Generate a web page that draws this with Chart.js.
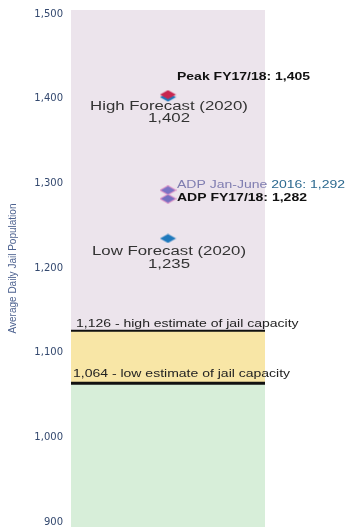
<!DOCTYPE html>
<html>
<head>
<meta charset="utf-8">
<script src="https://cdn.jsdelivr.net/npm/chart.js@4/dist/chart.umd.min.js"></script>
<style>
  html, body { margin: 0; padding: 0; background: #fff; overflow: hidden; }
  #wrap { position: relative; width: 346px; height: 527px; }
</style>
</head>
<body>
<div id="wrap"><canvas id="jailChart"></canvas></div>
<script>
// y axis range and ticks
const yMin = 894;
const yMax = 1505;
const yTicks = [900, 1000, 1100, 1200, 1300, 1400, 1500];

// jail capacity estimates
const capacityValues = [1126, 1064];
const capacityNames = ['high estimate of jail capacity', 'low estimate of jail capacity'];

// population markers
const pointNames = ['Peak FY17/18', 'High Forecast (2020)', 'ADP Jan-June 2016', 'ADP FY17/18', 'Low Forecast (2020)'];
const pointValues = [1405, 1402, 1292, 1282, 1235];

const fmt = v => v.toLocaleString('en-US');
const SX = 1.4; // wide lettering

// flattened diamond marker
function diamond(fill, stroke) {
  const c = document.createElement('canvas');
  c.width = 17; c.height = 10;
  const g = c.getContext('2d');
  g.beginPath();
  g.moveTo(8.5, 0.5); g.lineTo(16.5, 5); g.lineTo(8.5, 9.5); g.lineTo(0.5, 5); g.closePath();
  g.fillStyle = fill; g.fill();
  if (stroke) { g.strokeStyle = stroke; g.lineWidth = 1; g.stroke(); }
  return c;
}

const markerStyles = [
  diamond('#c8264f'),
  diamond('#1f79bc'),
  diamond('#7a74c4', '#e38cc4'),
  diamond('#7470c0', '#e38cc4'),
  diamond('#1f79bc')
];
const drawOrder = [0, 1, 2, 3, 4];

function wideText(ctx, text, x, y, align, font, color) {
  ctx.save();
  ctx.font = font;
  ctx.fillStyle = color;
  ctx.textBaseline = 'middle';
  ctx.textAlign = align;
  ctx.translate(x, y);
  ctx.scale(SX, 1);
  ctx.fillText(text, 0, 0);
  ctx.restore();
}

const annotations = {
  id: 'annotations',
  afterDatasetsDraw(chart) {
    const { ctx, chartArea, scales } = chart;
    const y = scales.y;

    // capacity lines
    capacityValues.forEach((v, i) => {
      const py = y.getPixelForValue(v);
      ctx.save();
      ctx.strokeStyle = '#111';
      ctx.lineWidth = i === 0 ? 2 : 3;
      ctx.beginPath();
      ctx.moveTo(chartArea.left, py);
      ctx.lineTo(chartArea.right, py);
      ctx.stroke();
      ctx.restore();
      wideText(ctx, fmt(v) + ' - ' + capacityNames[i],
        chartArea.left + (i === 0 ? 5 : 2), py - (i === 0 ? 6.5 : 9),
        'left', '10px "Liberation Sans"', '#222');
    });

    // marker labels
    const pos = i => chart.getDatasetMeta(3 + i).data[0];
    const bold = 'bold 10px "Liberation Sans"';
    const big = '12px "Liberation Sans"';

    let p = pos(0);
    wideText(ctx, pointNames[0] + ': ' + fmt(pointValues[0]), p.x + 9, p.y - 17, 'left', bold, '#111');

    p = pos(1);
    wideText(ctx, pointNames[1], p.x + 1, p.y + 10, 'center', big, '#333');
    wideText(ctx, fmt(pointValues[1]), p.x + 1, p.y + 22, 'center', big, '#333');

    p = pos(2);
    const first = 'ADP Jan-June ';
    wideText(ctx, first, p.x + 9, p.y - 5, 'left', '10px "Liberation Sans"', '#7f7db0');
    ctx.save();
    ctx.font = '10px "Liberation Sans"';
    const w = ctx.measureText(first).width * SX;
    ctx.restore();
    wideText(ctx, pointNames[2].replace(first, '') + ': ' + fmt(pointValues[2]),
      p.x + 9 + w, p.y - 5, 'left', '10px "Liberation Sans"', '#2d6a90');

    p = pos(3);
    wideText(ctx, pointNames[3] + ': ' + fmt(pointValues[3]), p.x + 9, p.y, 'left', bold, '#111');

    p = pos(4);
    wideText(ctx, pointNames[4], p.x + 1, p.y + 13, 'center', big, '#333');
    wideText(ctx, fmt(pointValues[4]), p.x + 1, p.y + 26, 'center', big, '#333');
  }
};

const bandDataset = (range, color) => ({
  type: 'bar',
  data: [range],
  backgroundColor: color,
  borderWidth: 0,
  barPercentage: 1,
  categoryPercentage: 1,
  grouped: false,
  order: 20
});

const pointDatasets = pointValues.map((v, i) => ({
  type: 'line',
  label: pointNames[i],
  data: [v],
  showLine: false,
  pointStyle: markerStyles[i],
  pointRadius: 6,
  pointHoverRadius: 6,
  clip: false,
  order: drawOrder[i]
}));

new Chart(document.getElementById('jailChart'), {
  data: {
    labels: [''],
    datasets: [
      bandDataset([capacityValues[0], yMax], '#ece4ec'),
      bandDataset([capacityValues[1], capacityValues[0]], '#f8e6a6'),
      bandDataset([yMin, capacityValues[1]], '#d7eed9'),
      ...pointDatasets
    ]
  },
  options: {
    responsive: true,
    maintainAspectRatio: false,
    animation: false,
    events: [],
    layout: { autoPadding: false, padding: { left: 3, right: 81, top: 10, bottom: 0 } },
    plugins: {
      legend: { display: false },
      tooltip: { enabled: false }
    },
    scales: {
      x: { display: false, offset: true },
      y: {
        min: yMin,
        max: yMax,
        afterBuildTicks: s => { s.ticks = yTicks.map(v => ({ value: v })); },
        afterFit: s => {
          s.width = 68;
          s.paddingTop = 0;
          s.paddingBottom = 0;
        },
        grid: { display: false, drawTicks: false },
        border: { display: false },
        ticks: {
          padding: 8,
          color: '#34496f',
          font: { family: 'DejaVu Sans', size: 10 },
          callback: v => fmt(v)
        },
        title: {
          display: true,
          text: 'Average Daily Jail Population',
          color: '#4d6290',
          font: { family: 'Liberation Sans', size: 10 }
        }
      }
    }
  },
  plugins: [annotations]
});
</script>
</body>
</html>
